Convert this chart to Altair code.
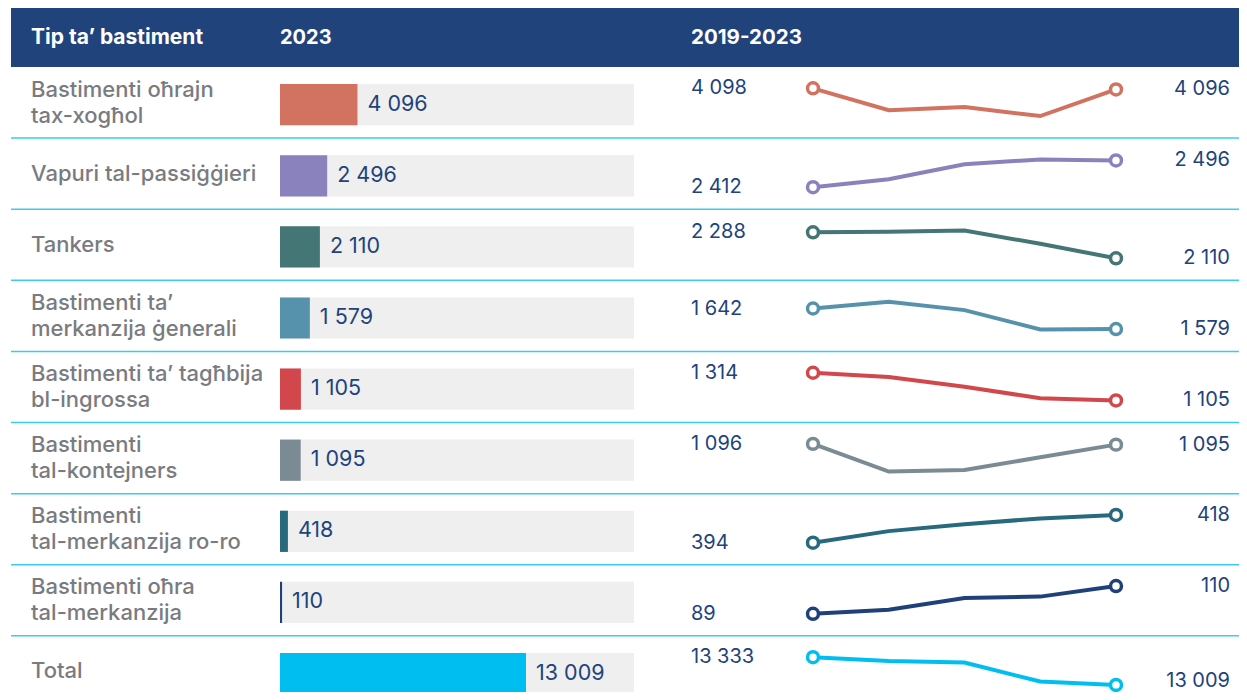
import altair as alt
import pandas as pd

# ---- data ----
categories = [
    "Bastimenti oħrajn tax-xogħol",
    "Vapuri tal-passiġġieri",
    "Tankers",
    "Bastimenti ta’ merkanzija ġenerali",
    "Bastimenti ta’ tagħbija bl-ingrossa",
    "Bastimenti tal-kontejners",
    "Bastimenti tal-merkanzija ro-ro",
    "Bastimenti oħra tal-merkanzija",
    "Total",
]
row_labels = [
    "Bastimenti oħrajn\ntax-xogħol",
    "Vapuri tal-passiġġieri",
    "Tankers",
    "Bastimenti ta’\nmerkanzija ġenerali",
    "Bastimenti ta’ tagħbija\nbl-ingrossa",
    "Bastimenti\ntal-kontejners",
    "Bastimenti\ntal-merkanzija ro-ro",
    "Bastimenti oħra\ntal-merkanzija",
    "Total",
]
years = [2019, 2020, 2021, 2022, 2023]
trend = [
    [4098, 4057, 4063, 4046, 4096],
    [2412, 2437, 2484, 2499, 2496],
    [2288, 2292, 2300, 2209, 2110],
    [1642, 1663, 1637, 1578, 1579],
    [1314, 1282, 1208, 1122, 1105],
    [1096, 1061, 1063, 1079, 1095],
    [394, 404, 410, 415, 418],
    [89, 92, 101, 102, 110],
    [13333, 13287, 13271, 13048, 13009],
]
headers = ["Tip ta’ bastiment", "2023", "2019-2023"]
colors = ["#D27260", "#8A82BC", "#437674", "#5792AC", "#D2474B",
          "#7A8B94", "#27697D", "#20407A", "#00BFF0"]

NAVY = "#21437C"
GRAY_TXT = "#7A7B7F"
BG = "#EFEFEF"
SEP = "#3CCBF0"
FONT = "Inter"

W, H = 1228, 684

rows = pd.DataFrame({
    "cat": categories,
    "label": row_labels,
    "idx": list(range(len(categories))),
    "v2023": [t[-1] for t in trend],
})
spark = pd.DataFrame([
    {"cat": c, "idx": i, "year": y, "value": v}
    for i, (c, t) in enumerate(zip(categories, trend))
    for y, v in zip(years, t)
])

yscale = alt.Scale(domain=[-0.83, 8.79], reverse=True)
barscale = alt.Scale(domain=[0, 18720], range=[269, 623])
sparkscale = alt.Scale(domain=[2019, 2023], range=[802, 1105])
colscale = alt.Scale(domain=categories, range=colors)

fmt = "replace(format(datum.{f}, ','), ',', ' ')"

base_rows = alt.Chart(rows)

header_rect = alt.Chart(rows).transform_filter("datum.idx == 0").mark_rect(color=NAVY).encode(
    x=alt.value(0), x2=alt.value(W),
    y=alt.YDatum(-0.83, scale=yscale, axis=None), y2=alt.datum(0),
)

def header_text(i, xpos, size):
    return alt.Chart(pd.DataFrame({"h": [headers[i]]})).mark_text(
        align="left", baseline="middle", font=FONT, fontSize=size,
        fontWeight="bold", color="white"
    ).encode(x=alt.value(xpos), y=alt.YDatum(-0.415, scale=yscale, axis=None), text="h:N")

seps = base_rows.transform_filter("datum.idx >= 1").mark_rule(color=SEP, strokeWidth=1.5).encode(
    x=alt.value(0), x2=alt.value(W),
    y=alt.Y("idx:Q", scale=yscale, axis=None),
)

lab_base = base_rows.transform_calculate(yl="datum.idx + 0.5")
labels_one = lab_base.transform_filter("indexof(datum.label, '\\n') < 0").mark_text(
    align="left", baseline="middle", font=FONT, fontSize=22, fontWeight=500, color=GRAY_TXT,
).encode(x=alt.value(20), y=alt.Y("yl:Q", scale=yscale, axis=None), text="label:N")
labels_two = lab_base.transform_filter("indexof(datum.label, '\\n') >= 0").mark_text(
    align="left", baseline="middle", font=FONT, fontSize=22, fontWeight=500, color=GRAY_TXT,
    lineBreak="\n", lineHeight=26, dy=-13
).encode(x=alt.value(20), y=alt.Y("yl:Q", scale=yscale, axis=None), text="label:N")

bar_pos = base_rows.transform_calculate(yb0="datum.idx + 0.24", yb1="datum.idx + 0.82",
                                        ym="datum.idx + 0.53",
                                        lab=fmt.format(f="v2023"))

bg = bar_pos.mark_rect(color=BG).encode(
    x=alt.XDatum(0, scale=barscale, axis=None), x2=alt.datum(18720),
    y=alt.Y("yb0:Q", scale=yscale, axis=None), y2="yb1:Q",
)
bars = bar_pos.mark_rect().encode(
    x=alt.X("v2023:Q", scale=barscale, axis=None), x2=alt.datum(0),
    y=alt.Y("yb0:Q", scale=yscale, axis=None), y2="yb1:Q",
    color=alt.Color("cat:N", scale=colscale, legend=None),
)
bar_text = bar_pos.mark_text(
    align="left", baseline="middle", dx=10, font=FONT, fontSize=21.5, color=NAVY
).encode(
    x=alt.X("v2023:Q", scale=barscale, axis=None),
    y=alt.Y("ym:Q", scale=yscale, axis=None),
    text="lab:N",
)

sp = alt.Chart(spark).transform_joinaggregate(
    vmin="min(value)", vmax="max(value)", groupby=["cat"]
).transform_calculate(
    norm="(datum.value - datum.vmin) / (datum.vmax - datum.vmin)",
    ys="datum.idx + 0.30 + (1 - datum.norm) * 0.39",
    ylab="min(datum.idx + 0.30 + (1 - datum.norm) * 0.39, 8.63)",
    lab=fmt.format(f="value"),
)

line = sp.mark_line(strokeWidth=4).encode(
    x=alt.X("year:Q", scale=sparkscale, axis=None),
    y=alt.Y("ys:Q", scale=yscale, axis=None),
    color=alt.Color("cat:N", scale=colscale, legend=None),
    detail="cat:N",
)
pts = sp.transform_filter("datum.year == 2019 || datum.year == 2023").mark_point(
    shape="circle", size=120, strokeWidth=3.5, filled=True, opacity=1
).encode(
    x=alt.X("year:Q", scale=sparkscale, axis=None),
    y=alt.Y("ys:Q", scale=yscale, axis=None),
    fill=alt.value("white"),
    stroke=alt.Stroke("cat:N", scale=colscale, legend=None),
)
start_lab = sp.transform_filter("datum.year == 2019").mark_text(
    align="left", baseline="middle", font=FONT, fontSize=20, color=NAVY
).encode(x=alt.value(680), y=alt.Y("ylab:Q", scale=yscale, axis=None), text="lab:N")
end_lab = sp.transform_filter("datum.year == 2023").mark_text(
    align="right", baseline="middle", font=FONT, fontSize=20, color=NAVY
).encode(x=alt.value(1219), y=alt.Y("ylab:Q", scale=yscale, axis=None), text="lab:N")

chart = alt.layer(
    header_rect, seps,
    header_text(0, 20, 21), header_text(1, 269, 20), header_text(2, 680, 20.5),
    labels_one, labels_two, bg, bars, bar_text, line, pts, start_lab, end_lab,
).resolve_scale(x="independent").properties(
    width=W, height=H, autosize="none",
    padding={"left": 3, "top": 0, "right": 0, "bottom": 0},
).configure_view(stroke=None)

chart.save("out.html", embed_options={"renderer": "svg", "actions": False})
